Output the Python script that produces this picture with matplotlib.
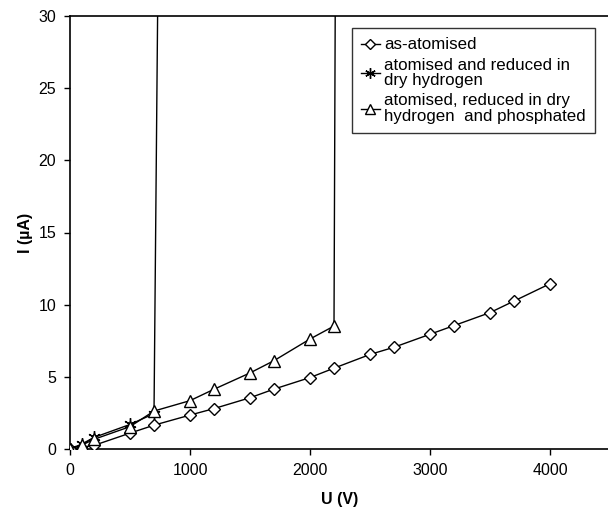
import matplotlib.pyplot as plt

plt.rcParams['font.family'] = ['Liberation Sans', 'DejaVu Sans']

# as-atomised
u_as = [0, 200, 500, 700, 1000, 1200, 1500, 1700, 2000, 2200, 2500, 2700,
        3000, 3200, 3500, 3700, 4000]
i_as = [0, 0.25, 1.1, 1.65, 2.35, 2.8, 3.55, 4.15, 4.95, 5.6, 6.55, 7.05,
        7.95, 8.55, 9.45, 10.25, 11.45]

# atomised and reduced in dry hydrogen (breaks down after 700 V)
u_red = [0, 100, 200, 500, 700, 730]
i_red = [0, 0.35, 0.8, 1.7, 2.45, 30]

# atomised, reduced in dry hydrogen and phosphated (breaks down after 2200 V)
u_pho = [0, 100, 200, 500, 700, 1000, 1200, 1500, 1700, 2000, 2200, 2210]
i_pho = [0, 0.28, 0.67, 1.55, 2.63, 3.35, 4.14, 5.27, 6.12, 7.62, 8.52, 30]

fig = plt.figure(figsize=(6.08, 5.13), dpi=100)
ax = fig.add_axes([70 / 608, 1 - 449 / 513, 540 / 608, 433 / 513])

ax.plot(u_as, i_as, color='black', lw=1, marker='D', ms=6.5,
        mfc='white', mec='black', mew=1, label='as-atomised', zorder=3)
ax.plot(u_red, i_red, color='black', lw=1, marker=(6, 2, 0), ms=9,
        mec='black', mew=1, markevery=list(range(len(u_red) - 1)),
        label='atomised and reduced in\ndry hydrogen', zorder=2)
ax.plot(u_pho, i_pho, color='black', lw=1, marker='^', ms=9,
        mfc='white', mec='black', mew=1, markevery=list(range(len(u_pho) - 1)),
        label='atomised, reduced in dry\nhydrogen  and phosphated', zorder=4)

ax.set_xlim(0, 4500)
ax.set_ylim(0, 30)
ax.set_xticks([0, 1000, 2000, 3000, 4000])
ax.set_yticks([0, 5, 10, 15, 20, 25, 30])
ax.tick_params(direction='out', length=4, width=1, labelsize=11.5, pad=6)
ax.set_xlabel('U (V)', fontsize=11.5, fontweight='bold', labelpad=10)
ax.set_ylabel('I (µA)', fontsize=11.5, fontweight='bold', labelpad=4)
for s in ax.spines.values():
    s.set_linewidth(1.2)

leg = ax.legend(loc='upper right', bbox_to_anchor=(0.972, 0.972),
                borderaxespad=0, fontsize=12.2, frameon=True, fancybox=False,
                edgecolor='black', handlelength=1.1, handletextpad=0.25,
                borderpad=0.55, labelspacing=0.3, markerscale=0.85)
leg.get_frame().set_linewidth(1)
for t in leg.get_texts():
    t.set_linespacing(1.05)

fig.savefig('out.png', dpi=100)
